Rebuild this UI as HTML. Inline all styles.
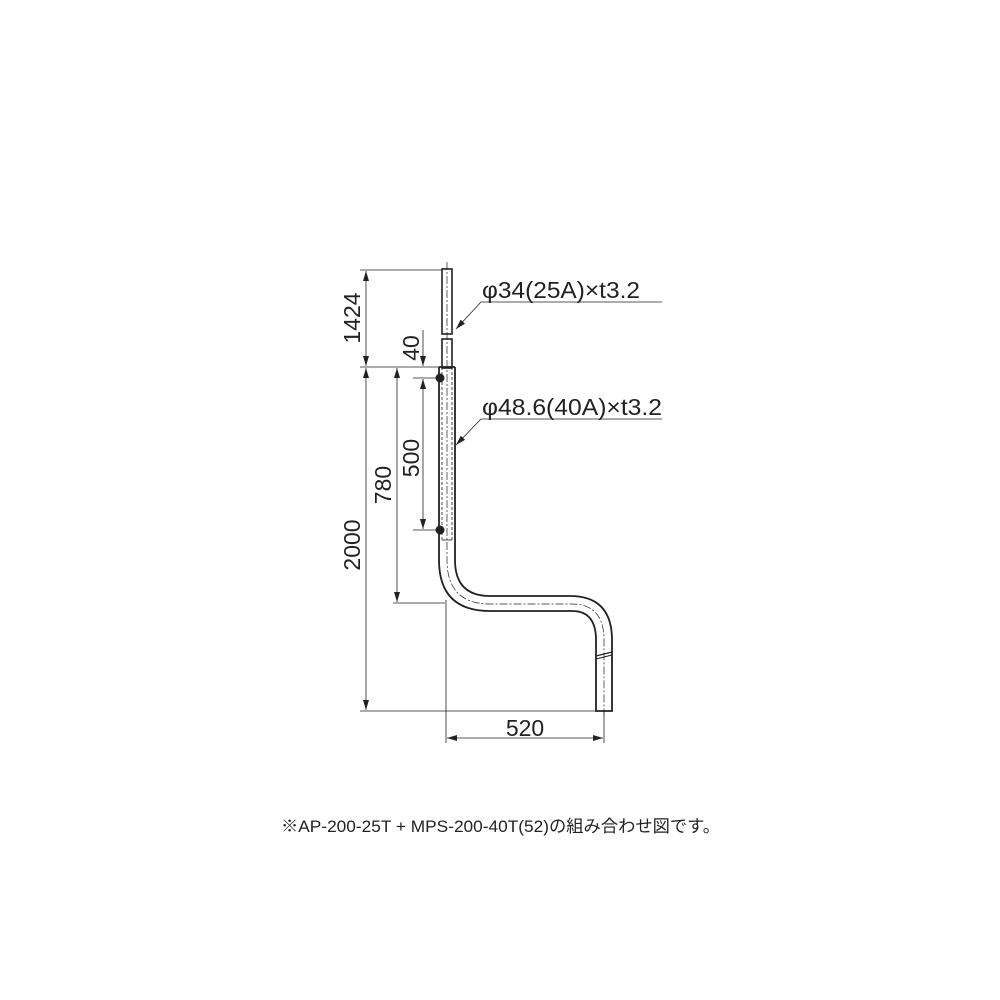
<!DOCTYPE html>
<html><head><meta charset="utf-8"><style>html,body{margin:0;padding:0;background:#fff}svg{display:block}</style></head>
<body>
<svg width="1000" height="1000" viewBox="0 0 1000 1000" xmlns="http://www.w3.org/2000/svg">
<defs>
<marker id="a" viewBox="0 0 10 6" refX="10" refY="3" markerWidth="10" markerHeight="6" orient="auto-start-reverse" markerUnits="userSpaceOnUse"><path d="M0,0 L10,3 L0,6 z" fill="#222"/></marker>
</defs>
<g stroke="#222" stroke-width="1" fill="none">
<rect x="442" y="269" width="10" height="65" fill="#fff" stroke-width="1.6"/>
<rect x="442" y="339" width="10" height="29" fill="#fff" stroke-width="1.6"/>
<path d="M439,367 L455,367 M439,367 L439,560 Q439,611 490,611 L572,611 Q596,611 596,640 L596,711 L612,711 L612,640 Q612,596 570,596 L490,596 Q455,596 455,560 L455,367" stroke-width="1.8" fill="none"/>
<line x1="596" y1="656" x2="612" y2="652" stroke-width="1.4"/>
<line x1="596" y1="659" x2="612" y2="655" stroke-width="1"/>
<line x1="442" y1="367" x2="442" y2="540" stroke-dasharray="3,2" stroke-width="0.8"/>
<line x1="452" y1="367" x2="452" y2="540" stroke-dasharray="3,2" stroke-width="0.8"/>
<line x1="442" y1="540" x2="452" y2="540" stroke-width="0.8"/>
<path d="M447,262 L447,560 Q447,604 490,604 L572,604 Q604,604 604,640 L604,716" stroke-dasharray="8,2,2,2" stroke-width="0.7"/>
<circle cx="440" cy="378" r="4" fill="#222"/><circle cx="440" cy="530" r="4" fill="#222"/>
<line x1="360" y1="270" x2="442" y2="270" stroke-width="0.8"/>
<line x1="360" y1="367" x2="440" y2="367" stroke-width="0.8"/>
<line x1="360" y1="711" x2="597" y2="711" stroke-width="0.8"/>
<line x1="393" y1="603" x2="445" y2="603" stroke-width="0.8"/>
<line x1="413" y1="378" x2="437" y2="378" stroke-width="0.8"/>
<line x1="413" y1="530" x2="437" y2="530" stroke-width="0.8"/>
<line x1="446" y1="600" x2="446" y2="743" stroke-width="0.8"/>
<line x1="604" y1="711" x2="604" y2="743" stroke-width="0.8"/>
<line x1="366" y1="271" x2="366" y2="366" marker-start="url(#a)" marker-end="url(#a)" stroke-width="0.8"/>
<line x1="366" y1="368" x2="366" y2="710" marker-start="url(#a)" marker-end="url(#a)" stroke-width="0.8"/>
<line x1="397" y1="368" x2="397" y2="602" marker-start="url(#a)" marker-end="url(#a)" stroke-width="0.8"/>
<line x1="423" y1="379" x2="423" y2="529" marker-start="url(#a)" marker-end="url(#a)" stroke-width="0.8"/>
<line x1="423" y1="330" x2="423" y2="366" marker-end="url(#a)" stroke-width="0.8"/>
<line x1="447" y1="738" x2="603" y2="738" marker-start="url(#a)" marker-end="url(#a)" stroke-width="0.8"/>
<polyline points="662,302 481,302 456,329" marker-end="url(#a)" stroke-width="0.8"/>
<polyline points="662,419 481,419 456,445" marker-end="url(#a)" stroke-width="0.8"/>
</g>
<g font-family="Liberation Sans, sans-serif" font-size="23" fill="#222">
<text x="482" y="298" textLength="158" lengthAdjust="spacingAndGlyphs">φ34(25A)×t3.2</text>
<text x="482" y="415" textLength="180" lengthAdjust="spacingAndGlyphs">φ48.6(40A)×t3.2</text>
<text x="525" y="736" text-anchor="middle">520</text>
<text transform="translate(360,318) rotate(-90)" text-anchor="middle">1424</text>
<text transform="translate(360,545) rotate(-90)" text-anchor="middle">2000</text>
<text transform="translate(391,485) rotate(-90)" text-anchor="middle">780</text>
<text transform="translate(419,458) rotate(-90)" text-anchor="middle">500</text>
<text transform="translate(419,348) rotate(-90)" text-anchor="middle">40</text>
</g>
<text x="281" y="832" font-family="Liberation Sans, 'Noto Sans CJK JP', sans-serif" font-size="17" fill="#222" textLength="439" lengthAdjust="spacingAndGlyphs">※AP-200-25T + MPS-200-40T(52)の組み合わせ図です。</text>
</svg>
</body></html>
